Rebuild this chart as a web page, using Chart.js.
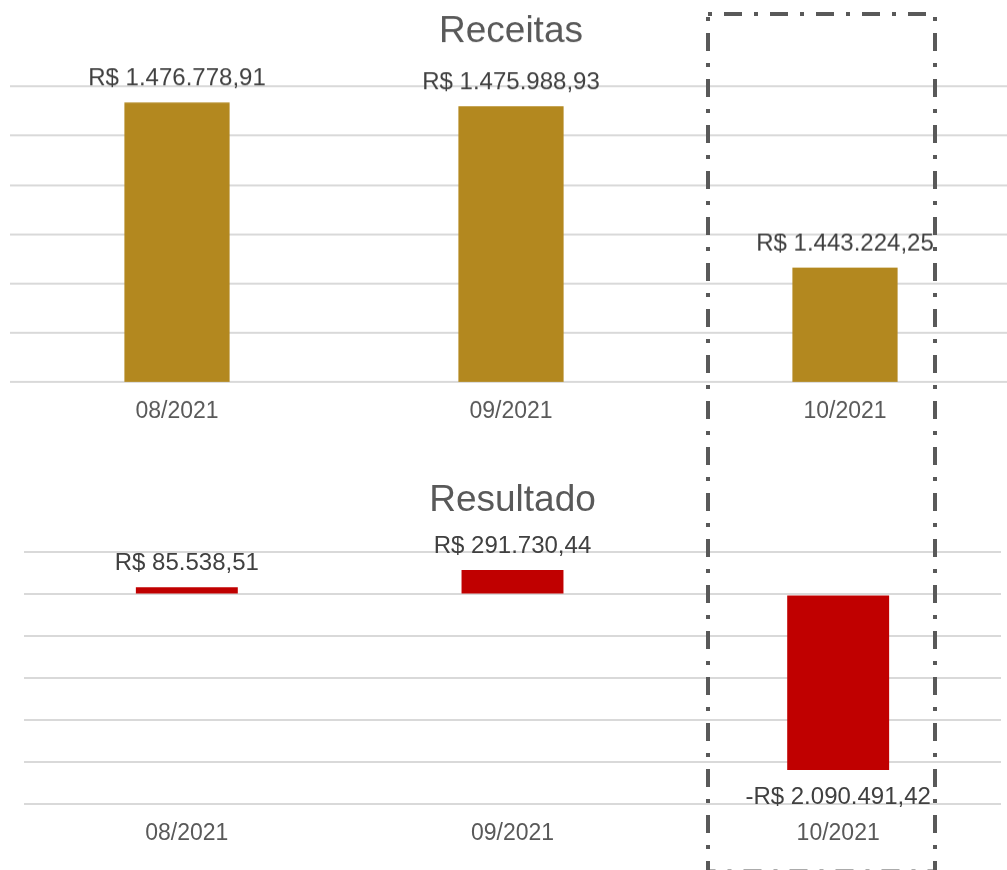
<!DOCTYPE html>
<html>
<head>
<meta charset="utf-8">
<script src="https://cdn.jsdelivr.net/npm/chart.js@4.4.0/dist/chart.umd.min.js"></script>
<style>
html, body { margin: 0; padding: 0; width: 1007px; height: 870px; overflow: hidden; background: #fff; }
#top { position: absolute; left: 10px; top: 0; width: 1002px; height: 439.5px; }
#bottom { position: absolute; left: 24px; top: 470px; width: 977px; height: 393px; }
svg { position: absolute; left: 0; top: 0; }
</style>
</head>
<body>
<div id="top"><canvas id="receitasChart"></canvas></div>
<div id="bottom"><canvas id="resultadoChart"></canvas></div>
<svg width="1007" height="870"><rect x="708" y="14" width="227" height="857.5" fill="none" stroke="#595959" stroke-width="4" stroke-dasharray="4 12 18 12"/></svg>
<script>
const meses = ['08/2021', '09/2021', '10/2021'];
const receitas = [1476778.91, 1475988.93, 1443224.25];
const resultado = [85538.51, 291730.44, -2090491.42];
const receitasMin = 1420000, receitasMax = 1480000, receitasPasso = 10000;
const resultadoMin = -2500000, resultadoMax = 500000, resultadoPasso = 500000;

const FONTE = '"Liberation Sans", Arial, sans-serif';

function moeda(v) {
  var partes = Math.abs(v).toFixed(2).split('.');
  var inteiro = partes[0].replace(/\B(?=(\d{3})+(?!\d))/g, '.');
  return (v < 0 ? '-' : '') + 'R$ ' + inteiro + ',' + partes[1];
}

const rotulos = {
  id: 'rotulos',
  afterDatasetsDraw(chart) {
    const ctx = chart.ctx;
    const valores = chart.data.datasets[0].data;
    ctx.save();
    ctx.font = '24px ' + FONTE;
    ctx.fillStyle = '#404040';
    ctx.textAlign = 'center';
    ctx.textBaseline = 'alphabetic';
    chart.getDatasetMeta(0).data.forEach((bar, i) => {
      const v = valores[i];
      ctx.fillText(moeda(v), bar.x, v >= 0 ? bar.y - 17 : bar.y + 34);
    });
    ctx.restore();
  }
};

function opcoes(titulo, padTitulo, min, max, passo) {
  return {
    responsive: true,
    maintainAspectRatio: false,
    animation: false,
    plugins: {
      legend: { display: false },
      tooltip: { enabled: false },
      title: {
        display: true,
        text: titulo,
        color: '#595959',
        font: { family: FONTE, size: 37, weight: 'normal' },
        padding: padTitulo
      }
    },
    scales: {
      x: {
        grid: { display: false, drawTicks: false },
        border: { display: false },
        ticks: { color: '#595959', font: { family: FONTE, size: 23 }, padding: 15.5 }
      },
      y: {
        min: min,
        max: max,
        grid: { color: '#d9d9d9', lineWidth: 2, drawTicks: false },
        border: { display: false },
        ticks: { display: false, stepSize: passo }
      }
    }
  };
}

new Chart(document.getElementById('receitasChart'), {
  type: 'bar',
  data: {
    labels: meses,
    datasets: [{
      data: receitas,
      backgroundColor: '#B3881F',
      categoryPercentage: 1,
      barPercentage: 0.315
    }]
  },
  options: opcoes('Receitas', { top: 10, bottom: 32 }, receitasMin, receitasMax, receitasPasso),
  plugins: [rotulos]
});

new Chart(document.getElementById('resultadoChart'), {
  type: 'bar',
  data: {
    labels: meses,
    datasets: [{
      data: resultado,
      backgroundColor: '#C00000',
      categoryPercentage: 1,
      barPercentage: 0.313
    }]
  },
  options: opcoes('Resultado', { top: 9, bottom: 29 }, resultadoMin, resultadoMax, resultadoPasso),
  plugins: [rotulos]
});
</script>
</body>
</html>
